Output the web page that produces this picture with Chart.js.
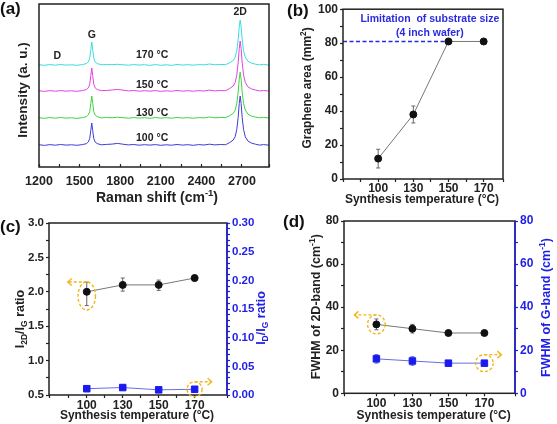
<!DOCTYPE html>
<html>
<head>
<meta charset="utf-8">
<script src="https://cdn.jsdelivr.net/npm/chart.js@4.4.0/dist/chart.umd.min.js"></script>
<style>
body { margin: 0; background: #fff; }
#fig { position: relative; width: 557px; height: 424px; overflow: hidden; font-family: "Liberation Sans", Arial, sans-serif; }
#fig canvas { position: absolute; }
.tag { position: absolute; font-size: 17px; line-height: 17px; font-weight: bold; color: #111; }
</style>
</head>
<body>
<div id="fig">
  <canvas id="chartA" width="280" height="210" style="left:0;top:0"></canvas>
  <canvas id="chartB" width="277" height="210" style="left:280px;top:0"></canvas>
  <canvas id="chartC" width="280" height="214" style="left:0;top:210px"></canvas>
  <canvas id="chartD" width="277" height="214" style="left:280px;top:210px"></canvas>
  <div class="tag" style="left:0;top:0">(a)</div>
  <div class="tag" style="left:287px;top:2px">(b)</div>
  <div class="tag" style="left:0;top:218px">(c)</div>
  <div class="tag" style="left:283px;top:213px">(d)</div>
</div>
<script>
// Raman spectra (a) - shift in cm-1, intensities in a.u. (curves already stacked)
const ramanShift = [1200, 1240, 1280, 1320, 1360, 1400, 1440, 1480, 1520, 1550, 1565, 1575, 1583, 1590, 1597, 1605, 1615, 1630,
  1660, 1700, 1740, 1780, 1820, 1860, 1900, 1940, 1980, 2020, 2060, 2100, 2140, 2180, 2220, 2260, 2300, 2340, 2380, 2420,
  2460, 2500, 2540, 2580, 2610, 2635, 2650, 2662, 2672, 2680, 2687, 2694, 2702, 2712, 2725, 2745, 2770, 2800, 2830, 2860, 2900];
const spec100 = [22.3, 21.6, 22.4, 21.8, 22.5, 21.9, 22.2, 21.7, 22.4, 23.3, 25.1, 28.6, 36.7, 44, 36.5, 28.4, 25.0, 23.4,
  22.2, 22.6, 22.9, 23.6, 22.8, 22.1, 22.5, 21.8, 22.3, 21.9, 22.4, 21.7, 22.2, 21.8, 22.5, 21.9, 22.3, 21.7, 22.4, 22.0,
  22.8, 22.1, 22.5, 22.3, 24.5, 26.9, 30.3, 37.7, 49.4, 63.6, 71, 63.4, 49.2, 37.5, 30.1, 25.9, 23.9, 22.8, 21.9, 22.4, 21.8];
const spec130 = [49.3, 48.7, 49.4, 48.8, 49.5, 48.9, 49.2, 48.6, 49.3, 50.3, 52.1, 55.6, 63.7, 71, 63.6, 55.4, 52.0, 50.4,
  49.1, 49.5, 49.2, 49.8, 49.3, 48.8, 49.4, 48.9, 49.3, 48.7, 49.4, 48.9, 49.3, 48.8, 49.5, 49.0, 49.3, 48.8, 49.4, 49.1,
  50.0, 49.2, 49.5, 49.4, 51.3, 53.6, 56.8, 63.7, 74.8, 88.1, 95, 88.0, 74.7, 63.6, 56.9, 52.8, 50.9, 49.9, 49.2, 49.6, 49.0];
const spec150 = [76.3, 75.6, 76.4, 75.8, 76.4, 75.9, 76.2, 75.7, 76.4, 77.4, 79.2, 82.9, 91.4, 99, 91.3, 82.8, 79.1, 77.5,
  76.4, 76.5, 77.0, 77.6, 76.9, 76.1, 76.5, 75.8, 76.3, 75.9, 76.4, 75.7, 76.2, 75.8, 76.5, 75.9, 76.3, 75.8, 76.4, 76.0,
  76.9, 76.1, 76.5, 76.3, 78.6, 81.0, 84.4, 92.0, 104.0, 118.5, 126, 118.4, 103.9, 91.9, 84.5, 80.1, 78.1, 77.0, 76.1, 76.5, 75.9];
const spec170 = [102.3, 101.7, 102.4, 101.8, 102.5, 101.9, 102.2, 101.7, 102.4, 103.4, 105.2, 108.9, 117.4, 125, 117.3, 108.8, 105.1, 103.5,
  102.2, 102.5, 102.3, 102.7, 102.2, 101.8, 102.4, 101.9, 102.3, 101.6, 102.4, 101.7, 102.2, 101.6, 102.5, 101.9, 102.3, 101.8, 102.4, 102.1,
  103.0, 102.2, 102.5, 102.4, 104.2, 106.5, 109.7, 116.4, 127.2, 140.3, 147, 140.2, 127.1, 116.3, 109.8, 105.7, 103.9, 102.8, 102.1, 102.6, 101.9];

// synthesis temperatures (b)-(d), plotted at evenly spaced positions
const temps = ['100', '130', '150', '170'];
const tempPos = [1, 2, 3, 4];

// (b) graphene area, mm2
const grapheneArea = [12, 38, 81, 81];
const grapheneAreaErr = [5.5, 5, 0, 0];
const waferLimit = 81;

// (c) intensity ratios
const ratio2DG = [2.0, 2.1, 2.1, 2.2];
const ratio2DGErrUp = [0.14, 0.1, 0.07, 0.04];
const ratio2DGErrDown = [0.2, 0.09, 0.08, 0.04];
const ratioDG = [0.011, 0.013, 0.009, 0.010];
const ratioDGErr = [0.005, 0.004, 0.003, 0.003];

// (d) FWHM, cm-1
const fwhm2D = [32, 30, 28, 28];
const fwhm2DErr = [2.5, 2, 1, 1];
const fwhmG = [16, 15, 14, 14];
const fwhmGErr = [2, 2, 1, 1];

const FONT = "'Liberation Sans', Arial, Helvetica, sans-serif";
const INK = '#222';
const BLUE = '#1f1fe6';
const ORANGE = '#f2b61c';

Chart.defaults.font.family = FONT;
Chart.defaults.font.weight = 'bold';

function pts(xs, ys) { return xs.map((x, i) => ({ x: x, y: ys[i] })); }
function tickFont(size) { return { family: FONT, size: size, weight: 'bold' }; }
function grid(color, len) {
  return { display: true, drawOnChartArea: false, drawTicks: true, tickLength: len || 3, tickColor: color, tickWidth: 1.2 };
}
function tempTicks(v) { return Number.isInteger(v) && v >= 1 && v <= 4 ? temps[v - 1] : ''; }

// text with sub/superscripts, centred on (x, y)
function richText(ctx, parts, x, y, size, color, vertical) {
  const font = s => 'bold ' + s + 'px ' + FONT;
  ctx.save();
  ctx.fillStyle = color;
  ctx.textBaseline = 'middle';
  let total = 0;
  parts.forEach(p => { ctx.font = font(p[1] ? size * 0.68 : size); total += ctx.measureText(p[0]).width; });
  ctx.translate(x, y);
  if (vertical) ctx.rotate(-Math.PI / 2);
  let cx = -total / 2;
  parts.forEach(p => {
    ctx.font = font(p[1] ? size * 0.68 : size);
    const dy = p[1] === 'sub' ? size * 0.28 : p[1] === 'sup' ? -size * 0.32 : 0;
    ctx.fillText(p[0], cx, dy);
    cx += ctx.measureText(p[0]).width;
  });
  ctx.restore();
}

// dashed orange ring with an arrow pointing at the axis it belongs to
function callout(ctx, cx, cy, rx, ry, dir, len) {
  ctx.save();
  ctx.strokeStyle = ORANGE;
  ctx.lineWidth = 1.4;
  ctx.setLineDash([3, 2]);
  ctx.beginPath(); ctx.ellipse(cx, cy, rx, ry, 0, 0, 2 * Math.PI); ctx.stroke();
  const y = cy - ry, x2 = cx + dir * len;
  ctx.beginPath(); ctx.moveTo(cx, y); ctx.lineTo(x2, y); ctx.stroke();
  ctx.setLineDash([]);
  ctx.beginPath(); ctx.moveTo(x2 - dir * 4, y - 3.5); ctx.lineTo(x2, y); ctx.lineTo(x2 - dir * 4, y + 3.5); ctx.stroke();
  ctx.restore();
}

// box round the plot area
const framePlugin = {
  id: 'frame',
  afterDraw(chart, args, opts) {
    const a = chart.chartArea, ctx = chart.ctx;
    ctx.save();
    ctx.lineWidth = 1.5;
    ctx.strokeStyle = INK;
    ctx.strokeRect(a.left, a.top, a.right - a.left, a.bottom - a.top);
    if (opts.right) {
      ctx.strokeStyle = opts.right;
      ctx.beginPath(); ctx.moveTo(a.right, a.top); ctx.lineTo(a.right, a.bottom); ctx.stroke();
    }
    ctx.restore();
  }
};
Chart.register(framePlugin);

function errorBars(list) {
  return {
    id: 'errbars',
    beforeDatasetsDraw(chart) {
      const ctx = chart.ctx;
      list.forEach(e => {
        const xs = chart.scales.x, ys = chart.scales[e.axis];
        ctx.save();
        ctx.strokeStyle = e.color;
        ctx.lineWidth = 1;
        e.y.forEach((v, i) => {
          const up = e.up[i], down = e.down[i];
          if (!up && !down) return;
          const px = xs.getPixelForValue(tempPos[i]);
          const top = ys.getPixelForValue(v + up), bot = ys.getPixelForValue(v - down);
          ctx.beginPath();
          ctx.moveTo(px, top); ctx.lineTo(px, bot);
          ctx.moveTo(px - 2, top); ctx.lineTo(px + 2, top);
          ctx.moveTo(px - 2, bot); ctx.lineTo(px + 2, bot);
          ctx.stroke();
        });
        ctx.restore();
      });
    }
  };
}

function decor(fn) { return { id: 'decor', afterDraw: chart => fn(chart, chart.ctx) }; }

const base = {
  responsive: false,
  animation: false,
  events: [],
  plugins: { legend: { display: false }, tooltip: { enabled: false } }
};

function blackSeries(ys) {
  return { data: pts(tempPos, ys), yAxisID: 'y', borderColor: '#777', borderWidth: 1, pointRadius: 3.5,
    pointBackgroundColor: '#111', pointBorderColor: '#111' };
}
function blueSeries(ys) {
  return { data: pts(tempPos, ys), yAxisID: 'y2', borderColor: '#6a6ae6', borderWidth: 1, pointStyle: 'rect',
    pointRadius: 4.6, pointBackgroundColor: '#1a1aee', pointBorderColor: '#1a1aee' };
}
function spectrum(ys, color) {
  return { data: pts(ramanShift, ys), borderColor: color, borderWidth: 1, pointRadius: 0, tension: 0 };
}

// (a) Raman spectra
new Chart(document.getElementById('chartA'), {
  type: 'line',
  data: { datasets: [spectrum(spec100, '#3c3cd8'), spectrum(spec130, '#3ed43e'),
    spectrum(spec150, '#e044e0'), spectrum(spec170, '#3adcdc')] },
  options: Object.assign({}, base, {
    layout: { padding: { left: 39, right: 11, top: 4, bottom: 0 } },
    scales: {
      x: { type: 'linear', min: 1200, max: 2900,
        ticks: { stepSize: 150, autoSkip: false, maxRotation: 0, padding: 10, color: INK, font: tickFont(12.5),
          callback: v => (v - 1200) % 300 === 0 && v <= 2700 ? String(v) : '' },
        grid: grid(INK, -3), border: { display: false },
        afterFit: s => { s.height = 43; } },
      y: { display: false, min: 0, max: 163 }
    }
  }),
  plugins: [decor((chart, ctx) => {
    const x = chart.scales.x, y = chart.scales.y;
    ctx.save();
    ctx.fillStyle = INK;
    ctx.font = 'bold 10.5px ' + FONT;
    ctx.textAlign = 'center';
    ctx.textBaseline = 'middle';
    ctx.fillText('D', x.getPixelForValue(1335), y.getPixelForValue(111));
    ctx.fillText('G', x.getPixelForValue(1590), y.getPixelForValue(132));
    ctx.fillText('2D', x.getPixelForValue(2687), y.getPixelForValue(155));
    [29, 54, 82, 112].forEach((v, i) => ctx.fillText(temps[i] + ' °C', x.getPixelForValue(2036), y.getPixelForValue(v)));
    ctx.restore();
    richText(ctx, [['Raman shift (cm'], ['-1', 'sup'], [')']], 157, 198, 14, INK, false);
    richText(ctx, [['Intensity (a. u.)']], 23, 90, 13.5, INK, true);
  })]
});

// (b) graphene area
new Chart(document.getElementById('chartB'), {
  type: 'line',
  data: { datasets: [
    blackSeries(grapheneArea),
    { data: [{ x: 0, y: waferLimit }, { x: 3, y: waferLimit }], yAxisID: 'y', borderColor: '#2b2bdc', borderWidth: 1.5,
      borderDash: [4, 2.5], pointRadius: 0 }
  ] },
  options: Object.assign({}, base, {
    layout: { padding: { left: 0, right: 54, top: 7, bottom: 0 } },
    scales: {
      x: { type: 'linear', min: 0, max: 4.55,
        ticks: { stepSize: 0.5, autoSkip: false, maxRotation: 0, padding: -1, color: INK, font: tickFont(12), callback: tempTicks },
        grid: grid(INK), border: { display: false },
        afterFit: s => { s.height = 31; } },
      y: { min: 0, max: 100,
        ticks: { stepSize: 10, autoSkip: false, padding: 2, color: INK, font: tickFont(12), callback: v => v % 20 === 0 ? String(v) : '' },
        grid: grid(INK), border: { display: false },
        afterFit: s => { s.width = 63; } }
    }
  }),
  plugins: [errorBars([{ y: grapheneArea, up: grapheneAreaErr, down: grapheneAreaErr, axis: 'y', color: '#666' }]),
    decor((chart, ctx) => {
      const x = chart.scales.x, y = chart.scales.y;
      ctx.save();
      ctx.fillStyle = '#2b2bdc';
      ctx.font = 'bold 10.5px ' + FONT;
      ctx.textAlign = 'center';
      ctx.textBaseline = 'middle';
      ctx.fillText('Limitation  of substrate size', x.getPixelForValue(2.47), y.getPixelForValue(94));
      ctx.fillText('(4 inch wafer)', x.getPixelForValue(2.47), y.getPixelForValue(86));
      ctx.restore();
      richText(ctx, [['Synthesis temperature (°C)']], 142, 200, 12, INK, false);
      richText(ctx, [['Graphene area (mm'], ['2', 'sup'], [')']], 28, 88, 12, INK, true);
    })]
});

// (c) I2D/IG and ID/IG ratios
new Chart(document.getElementById('chartC'), {
  type: 'line',
  data: { datasets: [blackSeries(ratio2DG), blueSeries(ratioDG)] },
  options: Object.assign({}, base, {
    layout: { padding: { left: 0, right: 0, top: 13, bottom: 0 } },
    plugins: Object.assign({}, base.plugins, { frame: { right: BLUE } }),
    scales: {
      x: { type: 'linear', min: -0.05, max: 4.9,
        ticks: { stepSize: 0.5, autoSkip: false, maxRotation: 0, padding: 0, color: INK, font: tickFont(12), callback: tempTicks },
        grid: grid(INK), border: { display: false },
        afterFit: s => { s.height = 29; } },
      y: { position: 'left', min: 0.5, max: 3.0,
        ticks: { stepSize: 0.25, autoSkip: false, padding: 2, color: INK, font: tickFont(11.5),
          callback: v => Math.round(v * 4) % 2 === 0 ? v.toFixed(1) : '' },
        grid: grid(INK), border: { display: false },
        afterFit: s => { s.width = 49; } },
      y2: { position: 'right', min: 0, max: 0.3,
        ticks: { stepSize: 0.01, autoSkip: false, padding: 2, color: BLUE, font: tickFont(11.5),
          callback: v => Math.round(v * 100) % 5 === 0 ? v.toFixed(2) : '' },
        grid: grid(BLUE), border: { display: false },
        afterFit: s => { s.width = 53; } }
    }
  }),
  plugins: [errorBars([
      { y: ratio2DG, up: ratio2DGErrUp, down: ratio2DGErrDown, axis: 'y', color: '#666' },
      { y: ratioDG, up: ratioDGErr, down: ratioDGErr, axis: 'y2', color: '#6a6ae6' }]),
    decor((chart, ctx) => {
      const x = chart.scales.x, y = chart.scales.y, y2 = chart.scales.y2;
      callout(ctx, x.getPixelForValue(1), y.getPixelForValue(1.94), 8.7, 14, -1, 19);
      callout(ctx, x.getPixelForValue(4), y2.getPixelForValue(ratioDG[3]), 7.5, 7.5, 1, 17);
      richText(ctx, [['Synthesis temperature (°C)']], 137, 205.5, 12, INK, false);
      richText(ctx, [['I'], ['2D', 'sub'], ['/I'], ['G', 'sub'], [' ratio']], 21, 109, 12.5, INK, true);
      richText(ctx, [['I'], ['D', 'sub'], ['/I'], ['G', 'sub'], [' ratio']], 262, 108, 12.5, BLUE, true);
    })]
});

// (d) FWHM of 2D and G bands
new Chart(document.getElementById('chartD'), {
  type: 'line',
  data: { datasets: [blackSeries(fwhm2D), blueSeries(fwhmG)] },
  options: Object.assign({}, base, {
    layout: { padding: { left: 0, right: 0, top: 11, bottom: 0 } },
    plugins: Object.assign({}, base.plugins, { frame: { right: BLUE } }),
    scales: {
      x: { type: 'linear', min: 0.1, max: 4.85,
        ticks: { stepSize: 0.5, autoSkip: false, maxRotation: 0, padding: 0, color: INK, font: tickFont(12), callback: tempTicks },
        grid: grid(INK), border: { display: false },
        afterFit: s => { s.height = 30.7; } },
      y: { position: 'left', min: 0, max: 80,
        ticks: { stepSize: 10, autoSkip: false, padding: 2, color: INK, font: tickFont(12), callback: v => v % 20 === 0 ? String(v) : '' },
        grid: grid(INK), border: { display: false },
        afterFit: s => { s.width = 64; } },
      y2: { position: 'right', min: 0, max: 80,
        ticks: { stepSize: 10, autoSkip: false, padding: 2, color: BLUE, font: tickFont(12), callback: v => v % 20 === 0 ? String(v) : '' },
        grid: grid(BLUE), border: { display: false },
        afterFit: s => { s.width = 42; } }
    }
  }),
  plugins: [errorBars([
      { y: fwhm2D, up: fwhm2DErr, down: fwhm2DErr, axis: 'y', color: '#666' },
      { y: fwhmG, up: fwhmGErr, down: fwhmGErr, axis: 'y2', color: '#6a6ae6' }]),
    decor((chart, ctx) => {
      const x = chart.scales.x, y = chart.scales.y, y2 = chart.scales.y2;
      callout(ctx, x.getPixelForValue(1), y.getPixelForValue(fwhm2D[0]), 8.8, 9.5, -1, 22);
      callout(ctx, x.getPixelForValue(4), y2.getPixelForValue(fwhmG[3]), 8.8, 8.5, 1, 17);
      richText(ctx, [['Synthesis temperature (°C)']], 153.7, 206, 12, INK, false);
      richText(ctx, [['FWHM of 2D-band (cm'], ['-1', 'sup'], [')']], 36.7, 96.7, 12.5, INK, true);
      richText(ctx, [['FWHM of G-band (cm'], ['-1', 'sup'], [')']], 266.7, 97.5, 12.5, BLUE, true);
    })]
});
</script>
</body>
</html>
